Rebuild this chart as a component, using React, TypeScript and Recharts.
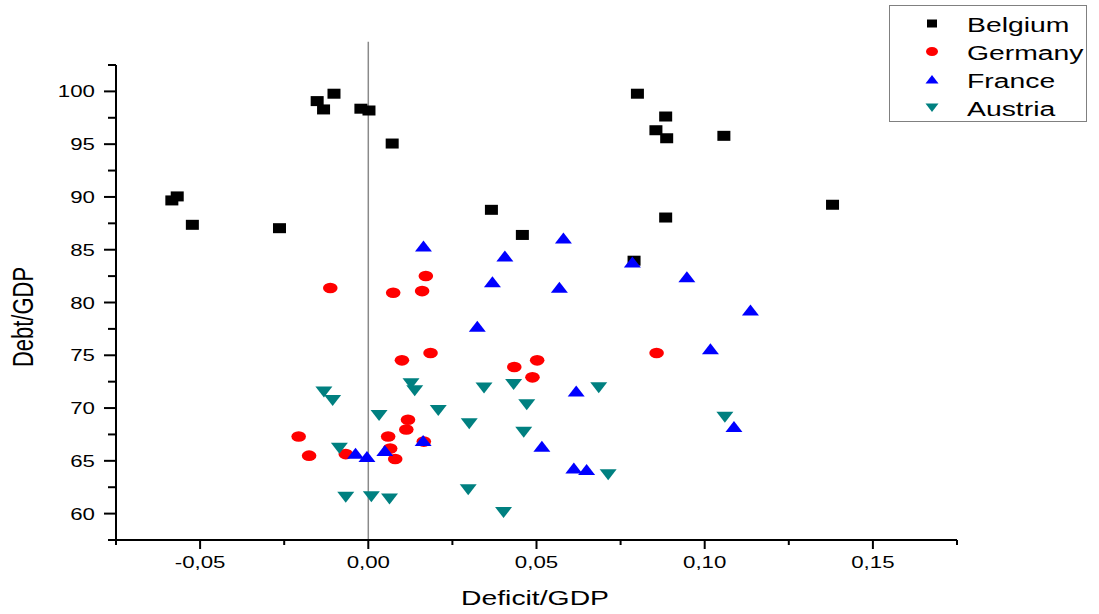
import React from 'react';
import { ScatterChart, Scatter, XAxis, YAxis, ReferenceLine } from 'recharts';

// values: deficit/GDP (x) vs debt/GDP (y)
const belgium = [
  { x: -0.0584, y: 89.67 }, { x: -0.0568, y: 90.05 }, { x: -0.0523, y: 87.36 },
  { x: -0.0264, y: 87.04 }, { x: -0.0152, y: 99.08 }, { x: -0.0133, y: 98.29 },
  { x: -0.0102, y: 99.78 }, { x: -0.0022, y: 98.36 }, { x: 0.0002, y: 98.19 },
  { x: 0.0071, y: 95.06 }, { x: 0.0366, y: 88.78 }, { x: 0.0458, y: 86.4 },
  { x: 0.08, y: 99.78 }, { x: 0.0884, y: 97.62 }, { x: 0.0855, y: 96.32 },
  { x: 0.0887, y: 95.56 }, { x: 0.1057, y: 95.79 }, { x: 0.138, y: 89.26 },
  { x: 0.0884, y: 88.05 }, { x: 0.079, y: 83.96 },
];

const germany = [
  { x: -0.0113, y: 81.37 }, { x: 0.0074, y: 80.92 }, { x: 0.016, y: 81.08 },
  { x: 0.0171, y: 82.51 }, { x: 0.01, y: 74.52 }, { x: 0.0185, y: 75.22 },
  { x: -0.0207, y: 67.3 }, { x: -0.0176, y: 65.49 }, { x: -0.0067, y: 65.64 },
  { x: 0.0059, y: 67.3 }, { x: 0.0065, y: 66.16 }, { x: 0.008, y: 65.18 },
  { x: 0.0113, y: 67.97 }, { x: 0.0118, y: 68.89 }, { x: 0.0165, y: 66.82 },
  { x: 0.0434, y: 73.89 }, { x: 0.0502, y: 74.52 }, { x: 0.0488, y: 72.91 },
  { x: 0.0857, y: 75.22 },
];

const france = [
  { x: 0.0164, y: 85.36 }, { x: 0.0406, y: 84.41 }, { x: 0.058, y: 86.12 },
  { x: 0.0369, y: 81.97 }, { x: 0.0568, y: 81.44 }, { x: 0.0785, y: 83.84 },
  { x: 0.0947, y: 82.44 }, { x: 0.1136, y: 79.28 }, { x: 0.0324, y: 77.76 },
  { x: 0.1017, y: 75.62 }, { x: 0.0618, y: 71.61 }, { x: 0.0516, y: 66.37 },
  { x: 0.0611, y: 64.31 }, { x: 0.0649, y: 64.19 }, { x: 0.0163, y: 66.92 },
  { x: 0.0049, y: 65.97 }, { x: -0.0038, y: 65.71 }, { x: -0.0004, y: 65.4 },
  { x: 0.1087, y: 68.25 },
];

const austria = [
  { x: -0.0132, y: 71.53 }, { x: -0.0106, y: 70.72 }, { x: 0.0127, y: 72.31 },
  { x: 0.0138, y: 71.63 }, { x: 0.0032, y: 69.3 }, { x: 0.0208, y: 69.77 },
  { x: 0.0344, y: 71.91 }, { x: 0.0432, y: 72.24 }, { x: 0.0471, y: 70.31 },
  { x: 0.03, y: 68.51 }, { x: 0.0462, y: 67.71 }, { x: 0.0685, y: 71.93 },
  { x: -0.0086, y: 66.19 }, { x: 0.106, y: 69.14 }, { x: -0.0067, y: 61.55 },
  { x: 0.0009, y: 61.6 }, { x: 0.0063, y: 61.38 }, { x: 0.0297, y: 62.26 },
  { x: 0.0402, y: 60.1 }, { x: 0.0713, y: 63.69 },
];

const xTicks = [-0.075, -0.05, -0.025, 0, 0.025, 0.05, 0.075, 0.1, 0.125, 0.15, 0.175];
const yTicks = [57.5, 60, 62.5, 65, 67.5, 70, 72.5, 75, 77.5, 80, 82.5, 85, 87.5, 90, 92.5, 95, 97.5, 100, 102.5];
const zeroLineTop = 104.7;

const FONT = "'Liberation Sans', Arial, sans-serif";
const SX = 1.35; // the original picture is stretched sideways

const isMajor = (v: number, step: number) => Math.abs(v / step - Math.round(v / step)) < 1e-6;

const XTick = (props: any) => {
  const { x, y, payload } = props;
  const v = payload.value;
  const major = isMajor(v, 0.05);
  return (
    <g>
      <line x1={x} x2={x} y1={y} y2={y + (major ? 9 : 5)} stroke="#000" strokeWidth={2} />
      {major && (
        <text transform={`translate(${x},${y + 28}) scale(${SX},1)`} textAnchor="middle"
          fontSize={16.5} fontFamily={FONT} fill="#000">
          {v.toFixed(2).replace('.', ',')}
        </text>
      )}
    </g>
  );
};

const YTick = (props: any) => {
  const { x, y, payload } = props;
  const v = payload.value;
  const major = isMajor(v, 5);
  return (
    <g>
      <line x1={x} x2={x - (major ? 12 : 8)} y1={y} y2={y} stroke="#000" strokeWidth={2} />
      {major && (
        <text transform={`translate(${x - 21},${y + 6}) scale(${SX},1)`} textAnchor="end"
          fontSize={16.5} fontFamily={FONT} fill="#000">
          {v}
        </text>
      )}
    </g>
  );
};

const Square = ({ cx, cy, fill }: any) => <rect x={cx - 6.5} y={cy - 5} width={13} height={10} fill={fill} />;
const Dot = ({ cx, cy, fill }: any) => <ellipse cx={cx} cy={cy} rx={7.3} ry={5.3} fill={fill} />;
const Up = ({ cx, cy, fill }: any) => (
  <polygon points={`${cx - 8.5},${cy + 5.5} ${cx + 8.5},${cy + 5.5} ${cx},${cy - 5.5}`} fill={fill} />
);
const Down = ({ cx, cy, fill }: any) => (
  <polygon points={`${cx - 8.5},${cy - 5.5} ${cx + 8.5},${cy - 5.5} ${cx},${cy + 5.5}`} fill={fill} />
);

const series = [
  { name: 'Belgium', data: belgium, color: '#000000', Shape: Square },
  { name: 'Germany', data: germany, color: '#ff0000', Shape: Dot },
  { name: 'France', data: france, color: '#0000ff', Shape: Up },
  { name: 'Austria', data: austria, color: '#008080', Shape: Down },
];

const LegendBox = () => (
  <svg width={1099} height={614} style={{ position: 'absolute', left: 0, top: 0, pointerEvents: 'none' }}>
    <rect x={889.5} y={5.5} width={197} height={116} fill="#fff" stroke="#808080" strokeWidth={1} />
    {series.map((s, i) => {
      const cy = 23.5 + i * 28;
      let mark;
      if (s.name === 'Belgium') mark = <rect x={927} y={cy - 4} width={10} height={8} fill={s.color} />;
      else if (s.name === 'Germany') mark = <ellipse cx={932} cy={cy} rx={6} ry={4.5} fill={s.color} />;
      else if (s.name === 'France') mark = <polygon points={`${925.5},${cy + 4} ${938.5},${cy + 4} 932,${cy - 4.5}`} fill={s.color} />;
      else mark = <polygon points={`${925.5},${cy - 4} ${938.5},${cy - 4} 932,${cy + 4.5}`} fill={s.color} />;
      return (
        <g key={s.name}>
          {mark}
          <text transform={`translate(967,${cy + 8}) scale(${SX},1)`} fontSize={21} fontFamily={FONT} fill="#000">
            {s.name}
          </text>
        </g>
      );
    })}
  </svg>
);

export default function App() {
  return (
    <div style={{ position: 'absolute', left: 0, top: 0, width: 1099, height: 614, background: '#fff' }}>
      <ScatterChart width={1099} height={614} margin={{ top: 65, right: 142, bottom: 0, left: 0 }}>
        <XAxis type="number" dataKey="x" domain={[-0.075, 0.175]} ticks={xTicks} interval={0}
          height={74} tickSize={0} tickMargin={0} tickLine={false} tick={<XTick />}
          axisLine={{ stroke: '#000', strokeWidth: 2 }} allowDataOverflow
          label={{
            content: () => (
              <text transform={`translate(535,605) scale(${SX},1)`} textAnchor="middle" fontSize={21}
                fontFamily={FONT} fill="#000">Deficit/GDP</text>
            ),
          }} />
        <YAxis type="number" dataKey="y" domain={[57.5, 102.5]} ticks={yTicks} interval={0}
          width={116} tickSize={0} tickMargin={0} tickLine={false} tick={<YTick />}
          axisLine={{ stroke: '#000', strokeWidth: 2 }} allowDataOverflow
          label={{
            content: () => (
              <text transform={`translate(33,317) scale(${SX},1) rotate(-90)`} textAnchor="middle"
                fontSize={22} fontFamily={FONT} fill="#000">Debt/GDP</text>
            ),
          }} />
        <ReferenceLine segment={[{ x: 0, y: 57.5 }, { x: 0, y: zeroLineTop }]} ifOverflow="visible"
          stroke="#8a8a8a" strokeWidth={1.5} />
        {series.map((s) => (
          <Scatter key={s.name} name={s.name} data={s.data} fill={s.color}
            shape={(p: any) => <s.Shape {...p} fill={s.color} />} isAnimationActive={false} />
        ))}
      </ScatterChart>
      <LegendBox />
    </div>
  );
}
